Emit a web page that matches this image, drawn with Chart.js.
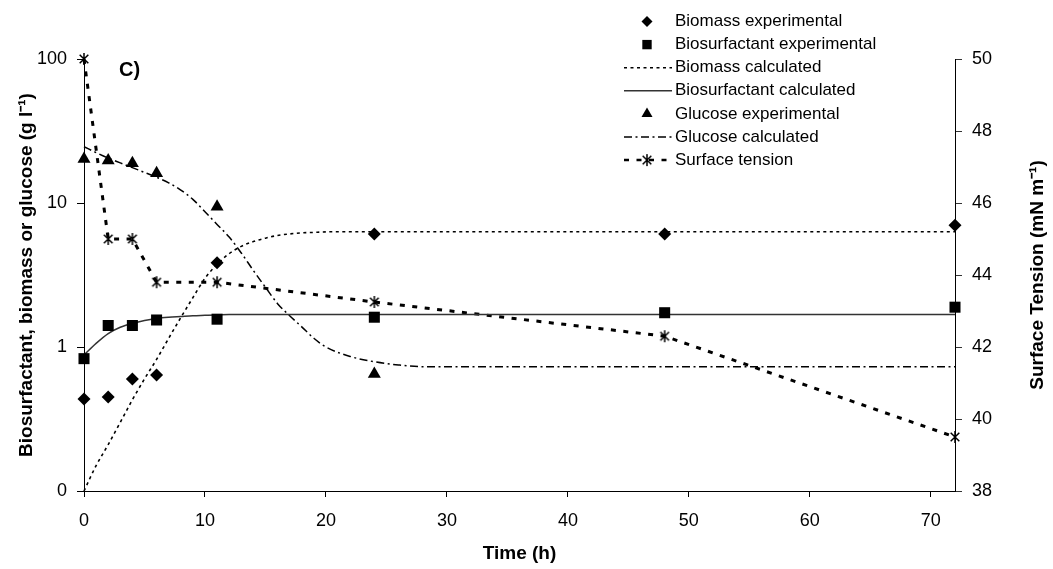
<!DOCTYPE html>
<html>
<head>
<meta charset="utf-8">
<script src="https://cdn.jsdelivr.net/npm/chart.js@4.4.0/dist/chart.umd.min.js"></script>
<style>
  html, body { margin: 0; padding: 0; background: #fff; }
  #wrap { width: 1053px; height: 569px; position: relative; }
</style>
</head>
<body>
<div id="wrap"><canvas id="chart"></canvas></div>
<script>
// sampling times (h)
const timeExp = [0, 2, 4, 6, 11, 24, 48, 72];
const glucoseTime = [0, 2, 4, 6, 11, 24];

// experimental values (g/l) and surface tension (mN/m)
const biomassExp = [0.435, 0.45, 0.6, 0.64, 3.85, 6.1, 6.1, 7.0];
const biosurfExp = [0.83, 1.41, 1.41, 1.54, 1.56, 1.61, 1.73, 1.89];
const glucoseExp = [20.2, 19.7, 18.9, 16.1, 9.4, 0.65];
const tensionExp = [50, 45.0, 45.0, 43.8, 43.8, 43.25, 42.3, 39.5];

// model curves
const calcTime = [0, 1, 2, 3, 4, 5, 6, 7, 8, 9, 10, 11, 12, 13, 14, 15, 16, 17, 18, 19, 20, 22, 24, 26, 28, 30, 72];
const biomassCalc = [0.1, 0.15, 0.21, 0.3, 0.43, 0.6, 0.82, 1.15, 1.6, 2.2, 3.0, 3.75, 4.45, 5.0, 5.4, 5.7, 5.95, 6.1, 6.2, 6.25, 6.3, 6.32, 6.32, 6.32, 6.32, 6.32, 6.32];
const biosurfCalc = [0.88, 1.06, 1.24, 1.37, 1.46, 1.53, 1.58, 1.61, 1.63, 1.65, 1.66, 1.67, 1.68, 1.68, 1.68, 1.68, 1.68, 1.68, 1.68, 1.68, 1.68, 1.68, 1.68, 1.68, 1.68, 1.68, 1.68];
const glucoseCalc = [24.6, 22.4, 20.5, 19.0, 17.6, 16.3, 15.1, 13.8, 12.3, 10.6, 8.7, 7.1, 5.8, 4.5, 3.4, 2.6, 2.0, 1.65, 1.38, 1.15, 1.0, 0.86, 0.79, 0.75, 0.73, 0.73, 0.73];

// axis ticks
const xTicks = [0, 10, 20, 30, 40, 50, 60, 70];
const leftTicks = [0.1, 1, 10, 100];
const leftTickLabels = ['0', '1', '10', '100'];

const FONT = "'Liberation Sans', Arial, sans-serif";
Chart.defaults.font.family = FONT;
Chart.defaults.color = '#000';

const pts = (xs, ys) => xs.map((x, i) => ({ x: x, y: ys[i] }));

// asterisk marker (X with a vertical bar)
function asterisk(size) {
  const c = document.createElement('canvas');
  c.width = c.height = size;
  const g = c.getContext('2d');
  const m = size / 2, r = size / 2 - 1, d = r * 0.72;
  g.strokeStyle = '#000';
  g.lineWidth = 1.5;
  g.beginPath();
  g.moveTo(m, m - r); g.lineTo(m, m + r);
  g.moveTo(m - d, m - d); g.lineTo(m + d, m + d);
  g.moveTo(m + d, m - d); g.lineTo(m - d, m + d);
  g.stroke();
  return c;
}
const starMark = asterisk(14);

const datasets = [
  {
    label: 'Biomass experimental', data: pts(timeExp, biomassExp), yAxisID: 'y',
    showLine: false, pointStyle: 'rectRot', pointRadius: 6.5,
    backgroundColor: '#000', borderColor: '#000', borderWidth: 0
  },
  {
    label: 'Biosurfactant experimental', data: pts(timeExp, biosurfExp), yAxisID: 'y',
    showLine: false, pointStyle: 'rect', pointRadius: 7.8,
    backgroundColor: '#000', borderColor: '#000', borderWidth: 0
  },
  {
    label: 'Biomass calculated', data: pts(calcTime, biomassCalc), yAxisID: 'y',
    borderColor: '#000', borderWidth: 1.6, borderDash: [3, 3.5],
    pointRadius: 0, cubicInterpolationMode: 'monotone'
  },
  {
    label: 'Biosurfactant calculated', data: pts(calcTime, biosurfCalc), yAxisID: 'y',
    borderColor: '#333', borderWidth: 1.5,
    pointRadius: 0, cubicInterpolationMode: 'monotone'
  },
  {
    label: 'Glucose experimental', data: pts(glucoseTime, glucoseExp), yAxisID: 'y',
    showLine: false, pointStyle: 'triangle', pointRadius: 7.5,
    backgroundColor: '#000', borderColor: '#000', borderWidth: 0
  },
  {
    label: 'Glucose calculated', data: pts(calcTime, glucoseCalc), yAxisID: 'y',
    borderColor: '#000', borderWidth: 1.5, borderDash: [8, 3.5, 2, 3.5],
    pointRadius: 0, cubicInterpolationMode: 'monotone'
  },
  {
    label: 'Surface tension', data: pts(timeExp, tensionExp), yAxisID: 'y2',
    borderColor: '#000', borderWidth: 3, borderDash: [5, 7.5],
    pointStyle: starMark, pointRadius: 7, tension: 0
  }
];
datasets.forEach(ds => { ds.clip = false; });

// legend, panel letter and right axis title
const extras = {
  id: 'extras',
  afterDraw(chart) {
    const ctx = chart.ctx;
    ctx.save();
    chart.data.datasets.forEach((ds, i) => {
      const y = 21.5 + i * 23.1;
      if (ds.showLine !== false) {
        ctx.save();
        ctx.strokeStyle = ds.borderColor;
        ctx.lineWidth = Math.min(ds.borderWidth, 2.5);
        ctx.setLineDash(ds.borderDash || []);
        ctx.beginPath();
        ctx.moveTo(624, y);
        ctx.lineTo(672, y);
        ctx.stroke();
        ctx.restore();
      }
      if (ds.pointRadius > 0) {
        ctx.fillStyle = '#000';
        Chart.helpers.drawPoint(ctx, {
          pointStyle: ds.pointStyle, radius: ds.pointRadius * 0.85, rotation: 0, borderWidth: 0
        }, 647, y);
      }
      ctx.fillStyle = '#000';
      ctx.font = '17px ' + FONT;
      ctx.textAlign = 'left';
      ctx.textBaseline = 'middle';
      ctx.fillText(ds.label, 675, y);
    });

    ctx.font = 'bold 20px ' + FONT;
    ctx.textAlign = 'left';
    ctx.fillText('C)', 119, 70);

    ctx.translate(1038, 275);
    ctx.rotate(-Math.PI / 2);
    ctx.textAlign = 'center';
    ctx.font = 'bold 19px ' + FONT;
    ctx.fillText('Surface Tension (mN m\u207B\u00B9)', 0, 0);
    ctx.restore();
  }
};

new Chart(document.getElementById('chart'), {
  type: 'line',
  data: { datasets: datasets },
  options: {
    responsive: true,
    maintainAspectRatio: false,
    animation: false,
    layout: { padding: { top: 59, left: 0, right: 0, bottom: 0 } },
    plugins: { legend: { display: false }, tooltip: { enabled: false } },
    scales: {
      x: {
        type: 'linear', position: 'bottom', min: 0, max: 72,
        afterBuildTicks: axis => { axis.ticks = xTicks.map(v => ({ value: v })); },
        afterFit: s => { s.height = 78; },
        ticks: { font: { size: 18 }, padding: 13, maxRotation: 0 },
        grid: { drawOnChartArea: false, tickLength: 6, color: '#000' },
        border: { color: '#000', width: 1 },
        title: { display: true, text: 'Time (h)', font: { size: 19, weight: 'bold' }, padding: { top: 0, bottom: 4 } }
      },
      y: {
        type: 'logarithmic', position: 'left', min: 0.1, max: 100,
        afterBuildTicks: axis => { axis.ticks = leftTicks.map(v => ({ value: v })); },
        afterFit: s => { s.width = 84; },
        ticks: { font: { size: 18 }, padding: 10, callback: (v, i) => leftTickLabels[i] },
        grid: { drawOnChartArea: false, tickLength: 7, color: '#000' },
        border: { color: '#000', width: 1 },
        title: { display: true, text: 'Biosurfactant, biomass or glucose (g l\u207B\u00B9)', font: { size: 19, weight: 'bold' }, padding: { top: 15, bottom: 0 } }
      },
      y2: {
        type: 'linear', position: 'right', min: 38, max: 50,
        afterFit: s => { s.width = 98; },
        ticks: { stepSize: 2, font: { size: 18 }, padding: 10 },
        grid: { drawOnChartArea: false, tickLength: 7, color: '#333' },
        border: { color: '#000', width: 1 }
      }
    }
  },
  plugins: [extras]
});
</script>
</body>
</html>
